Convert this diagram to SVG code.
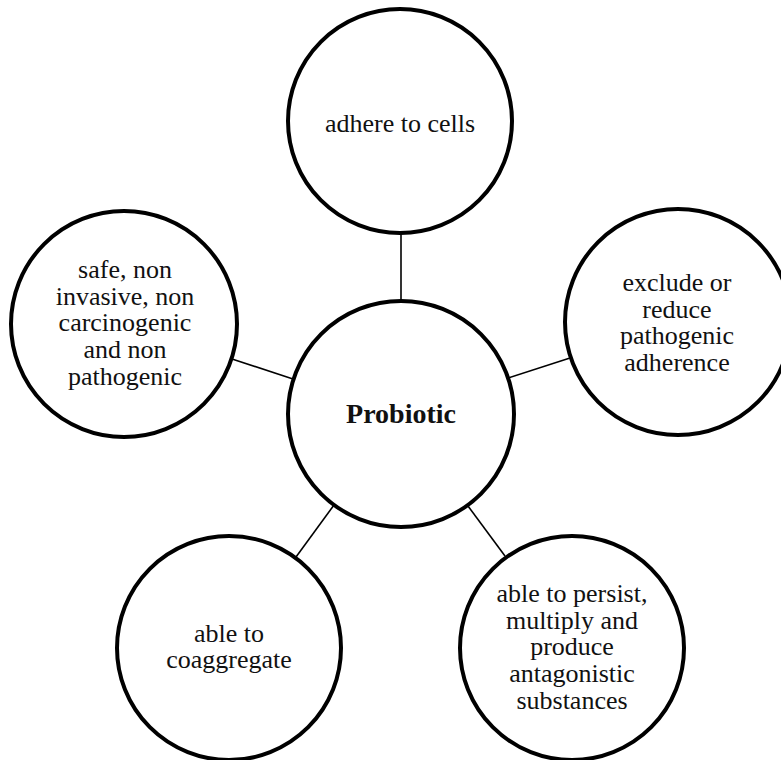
<svg xmlns="http://www.w3.org/2000/svg" width="781" height="760" viewBox="0 0 781 760">
<style>
.node circle { fill: #fff; stroke: #000; stroke-width: 4; }
.node text { font-family: "Liberation Serif", "Times New Roman", serif; font-size: 26px; fill: #111; text-anchor: middle; }
.node text.bold { font-weight: bold; font-size: 28px; }
.edges line { stroke: #000; stroke-width: 1.6; }
</style>
<rect width="781" height="760" fill="#fff"/>
<g class="edges" id="connectors">
<line x1="401" y1="233" x2="401" y2="301"/>
<line x1="232" y1="359" x2="293" y2="379"/>
<line x1="508" y1="378" x2="570" y2="358"/>
<line x1="334" y1="505" x2="296" y2="557"/>
<line x1="468" y1="506" x2="505" y2="556"/>
</g>
<g class="node" id="n-center">
<circle cx="401" cy="414" r="113"/>
<text class="bold" x="401" y="423">Probiotic</text>
</g>
<g class="node" id="n-top">
<circle cx="400" cy="121" r="112"/>
<text x="400" y="132">adhere to cells</text>
</g>
<g class="node" id="n-right">
<circle cx="678" cy="322" r="113"/>
<text x="677" y="291">exclude or</text>
<text x="677" y="317.7">reduce</text>
<text x="677" y="344.4">pathogenic</text>
<text x="677" y="371.1">adherence</text>
</g>
<g class="node" id="n-left">
<circle cx="124" cy="324" r="113"/>
<text x="125" y="278">safe, non</text>
<text x="125" y="304.7">invasive, non</text>
<text x="125" y="331.4">carcinogenic</text>
<text x="125" y="358.1">and non</text>
<text x="125" y="384.8">pathogenic</text>
</g>
<g class="node" id="n-bottom-left">
<circle cx="229" cy="648" r="112"/>
<text x="229" y="641.5">able to</text>
<text x="229" y="668.2">coaggregate</text>
</g>
<g class="node" id="n-bottom-right">
<circle cx="572" cy="648" r="112"/>
<text x="572" y="601.8">able to persist,</text>
<text x="572" y="628.5">multiply and</text>
<text x="572" y="655.2">produce</text>
<text x="572" y="681.9">antagonistic</text>
<text x="572" y="708.6">substances</text>
</g>
</svg>
